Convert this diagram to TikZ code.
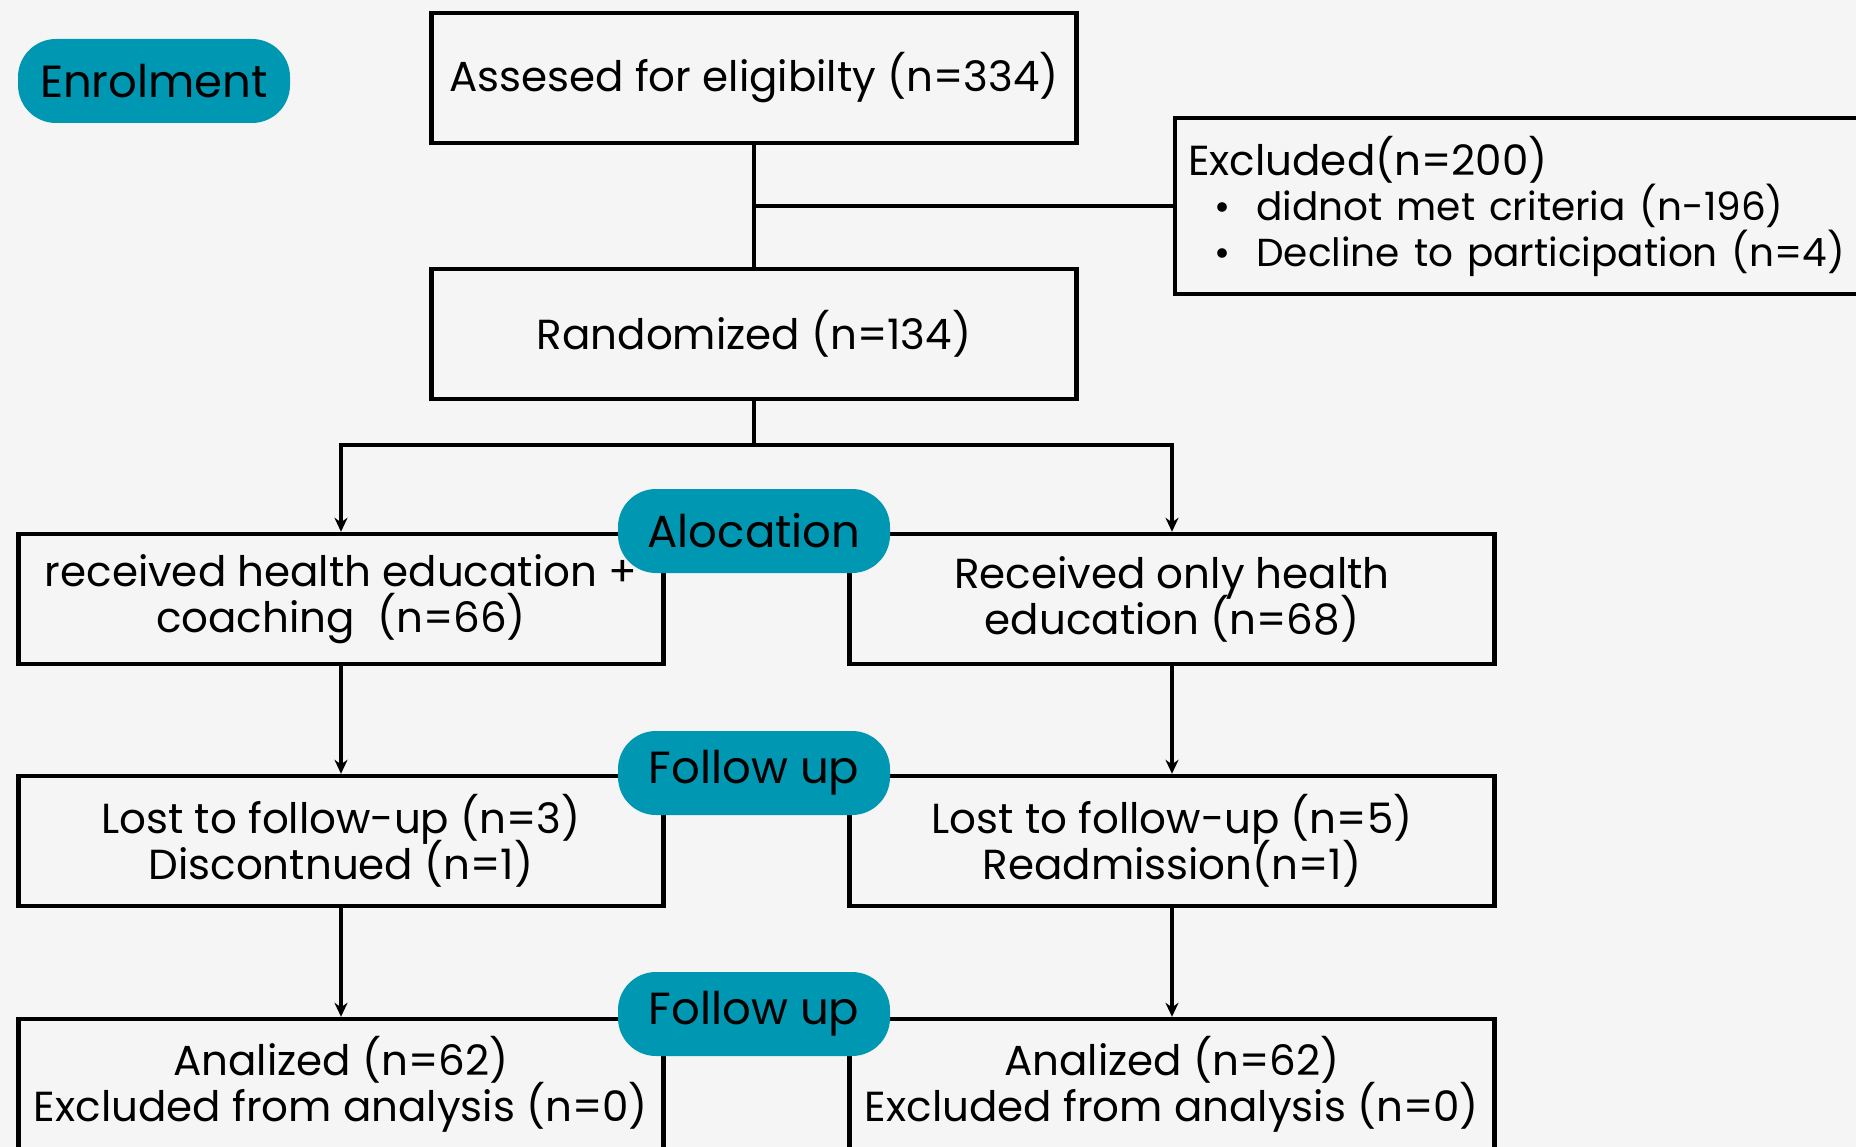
\documentclass[tikz,border=0pt]{standalone}
\usepackage{fontspec}
\setmainfont{Poppins}
\usetikzlibrary{arrows.meta}
\newcommand{\fontecaixa}{\fontsize{42}{46}\selectfont\lineskiplimit=-100pt\relax}
\begin{document}
\begin{tikzpicture}[x=1pt, y=-1pt,
    font=\fontecaixa,
    caixa/.style={draw, line width=4.4pt, minimum width=645pt, minimum height=130pt, align=center, inner sep=0pt},
    fase/.style={fill=fasecol, rounded corners=38pt, minimum width=272pt, minimum height=84pt, inner sep=0pt, font=\fontsize{45}{50}\selectfont},
    liga/.style={line width=3.2pt},
    seta/.style={liga, -{Stealth[length=14pt, width=13pt]}}]

    % Definindo cores
    \definecolor{fundocol}{RGB}{245, 245, 245} % Cinza claro do fundo
    \definecolor{fasecol}{RGB}{0, 151, 178}    % Azul das etapas

    % 1. Fundo e limites da figura
    \fill[fundocol] (0,0) rectangle (1856,1147);
    \useasboundingbox (0,0) rectangle (1856,1147);

    % 2. Caixas de recrutamento
    \node[caixa] (avaliado) at (754,78) {Assesed for eligibilty (n=334)};
    \node[caixa] (randomizado) at (754,334) {Randomized (n=134)};
    \node[caixa, anchor=west, align=left, minimum height=176pt, text width=700pt, inner xsep=13pt] (excluido) at (1173,206) {
        Excluded(n=200)\\
        \fontsize{39}{45}\selectfont
        \hspace*{26pt}\textbullet\hspace{26pt}didnot met criteria (n-196)\\
        \hspace*{26pt}\textbullet\hspace{26pt}Decline to participation (n=4)
    };

    % 3. Caixas dos dois grupos
    \node[caixa] (grupoA) at (341,599) {received health education +\\coaching\ \ (n=66)};
    \node[caixa] (grupoB) at (1172,599) {Received only health\\education (n=68)};
    \node[caixa] (perdaA) at (341,841) {Lost to follow-up (n=3)\\Discontnued (n=1)};
    \node[caixa] (perdaB) at (1172,841) {Lost to follow-up (n=5)\\Readmission(n=1)};
    \node[caixa] (analiseA) at (341,1084) {Analized (n=62)\\Excluded from analysis (n=0)};
    \node[caixa] (analiseB) at (1172,1084) {Analized (n=62)\\Excluded from analysis (n=0)};

    % 4. Ligacoes e setas
    \coordinate (ramo) at (754,445);
    \draw[liga] (avaliado) -- (randomizado);
    \draw[liga] (excluido.west) -- (excluido.west -| avaliado.south);
    \draw[liga] (randomizado) -- (ramo);
    \draw[seta] (ramo) -| (grupoA);
    \draw[seta] (ramo) -| (grupoB);
    \draw[seta] (grupoA) -- (perdaA);
    \draw[seta] (grupoB) -- (perdaB);
    \draw[seta] (perdaA) -- (analiseA);
    \draw[seta] (perdaB) -- (analiseB);

    % 5. Etiquetas das etapas
    \node[fase] (inscricao) at (154,81) {Enrolment};
    \node[fase] (alocacao) at (754,531) {Alocation};
    \node[fase] (seguimento1) at (754,773) {Follow up};
    \node[fase] (seguimento2) at (754,1014) {Follow up};

\end{tikzpicture}
\end{document}
